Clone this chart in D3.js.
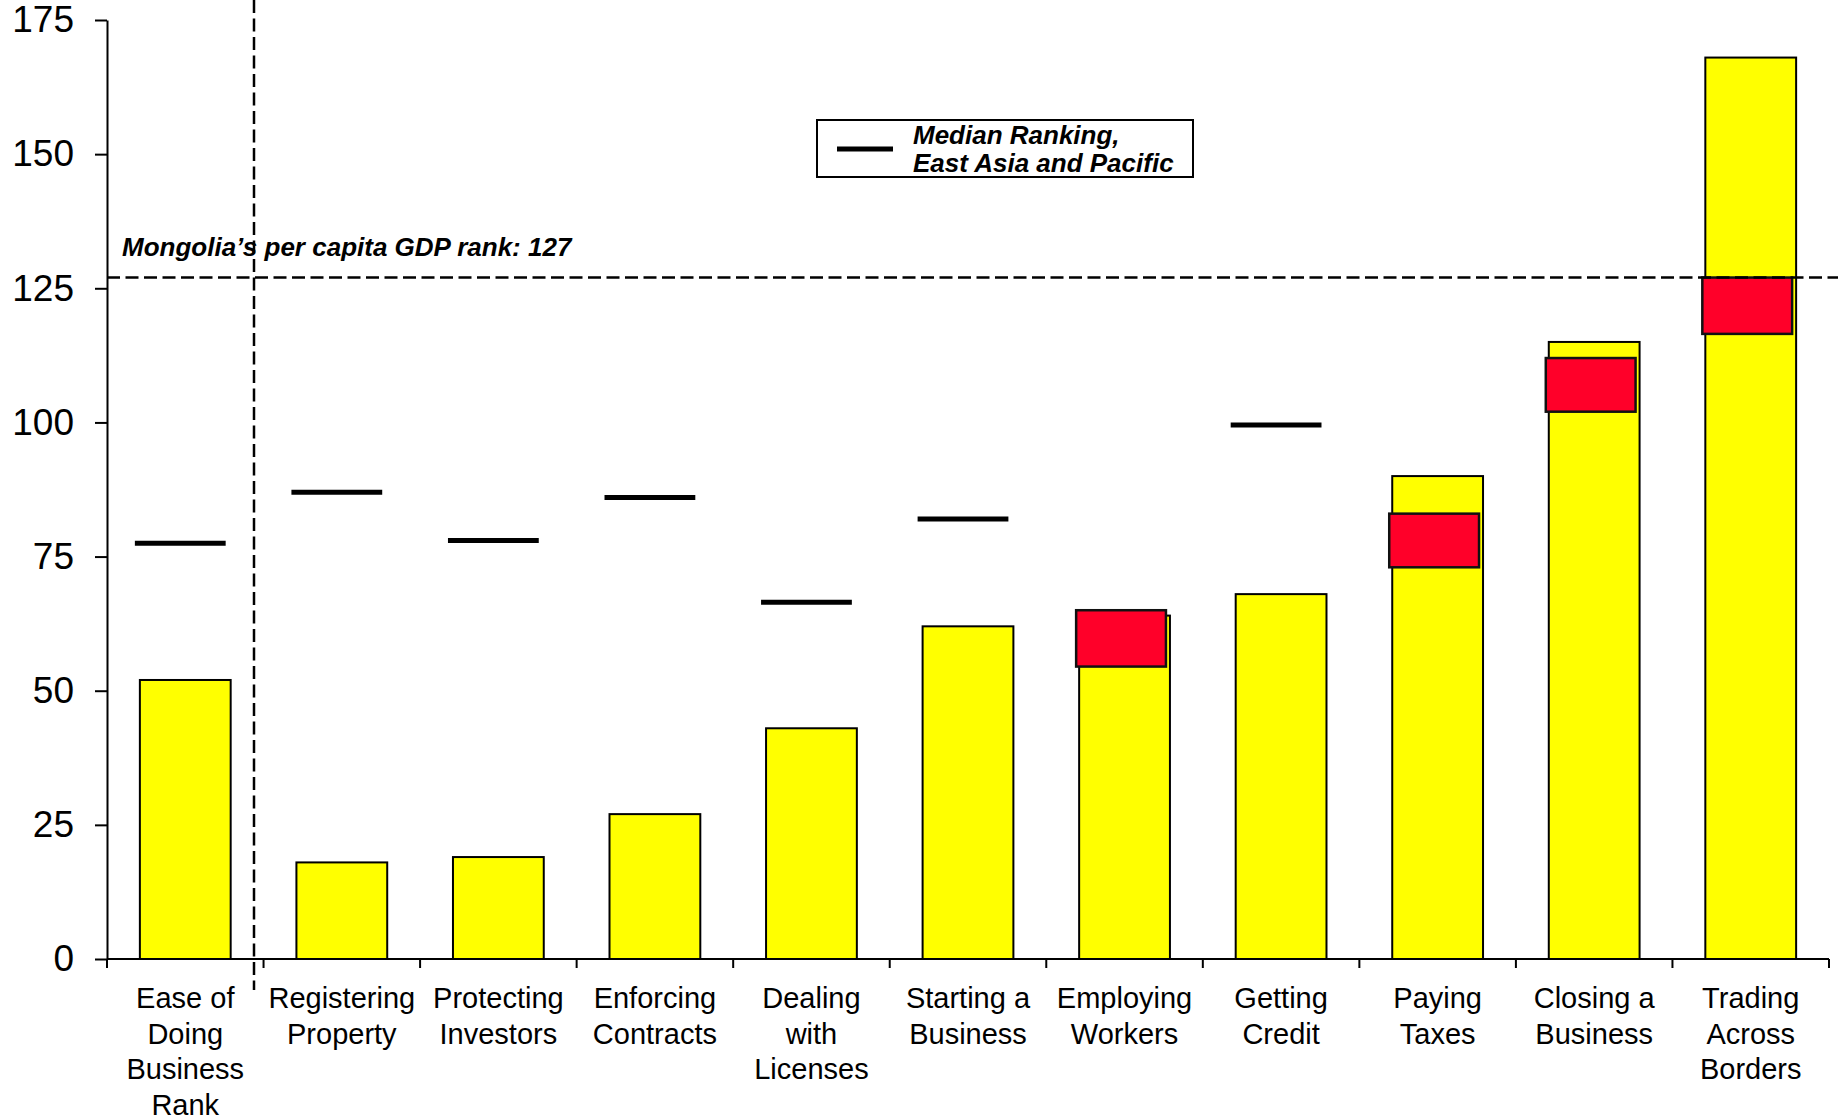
<!DOCTYPE html>
<html>
<head>
<meta charset="utf-8">
<script src="https://cdn.jsdelivr.net/npm/d3@7"></script>
<style>
  html, body { margin: 0; padding: 0; background: #fff; }
  svg { display: block; font-family: "Liberation Sans", Arial, sans-serif; }
</style>
</head>
<body>
<svg id="chart" width="1838" height="1120"></svg>
<script>
// Doing Business rankings for Mongolia, by topic
const categories = [
  ["Ease of", "Doing", "Business", "Rank"],
  ["Registering", "Property"],
  ["Protecting", "Investors"],
  ["Enforcing", "Contracts"],
  ["Dealing", "with", "Licenses"],
  ["Starting a", "Business"],
  ["Employing", "Workers"],
  ["Getting", "Credit"],
  ["Paying", "Taxes"],
  ["Closing a", "Business"],
  ["Trading", "Across", "Borders"]
];
const rankValues = [52, 18, 19, 27, 43, 62, 64, 68, 90, 115, 168];
// Median ranking, East Asia and Pacific (null where no marker is drawn)
const medianValues = [77.5, 87, 78, 86, 66.5, 82, null, 99.5, null, null, null];
// Red range boxes (null where none)
const redLow  = [null, null, null, null, null, null, 54.5, null, 73, 102, 116.5];
const redHigh = [null, null, null, null, null, null, 65,   null, 83, 112, 127];
const yTicks = [0, 25, 50, 75, 100, 125, 150, 175];
const gdpRank = 127;
const gdpLabel = "Mongolia\u2019s per capita GDP rank: 127";
const legendLines = ["Median Ranking,", "East Asia and Pacific"];

const svg = d3.select("#chart");
const keys = categories.map((c, i) => i);

const x = d3.scaleBand()
  .domain(keys)
  .range([107, 1829])
  .paddingInner(0.42)
  .paddingOuter(0.21);
const y = d3.scaleLinear().domain([0, 175]).range([959, 20]);
const bw = x.bandwidth();
const gap = (x.step() - bw) / 2;

// Yellow rank bars
svg.append("g").selectAll("rect")
  .data(keys)
  .join("rect")
  .attr("x", i => x(i))
  .attr("y", i => y(rankValues[i]))
  .attr("width", bw)
  .attr("height", i => y(0) - y(rankValues[i]))
  .attr("fill", "#FFFF00")
  .attr("stroke", "#000")
  .attr("stroke-width", 2);

// Red range boxes
svg.append("g").selectAll("rect")
  .data(keys.filter(i => redLow[i] !== null))
  .join("rect")
  .attr("x", i => x(i) - 3)
  .attr("y", i => y(redHigh[i]))
  .attr("width", bw - 1)
  .attr("height", i => y(redLow[i]) - y(redHigh[i]))
  .attr("fill", "#FF0029")
  .attr("stroke", "#111")
  .attr("stroke-width", 2.5);

// Median markers
svg.append("g").selectAll("line")
  .data(keys.filter(i => medianValues[i] !== null))
  .join("line")
  .attr("x1", i => x(i) - 5)
  .attr("x2", i => x(i) - 5 + bw)
  .attr("y1", i => y(medianValues[i]))
  .attr("y2", i => y(medianValues[i]))
  .attr("stroke", "#000")
  .attr("stroke-width", 5);

// Y axis
const yAxis = svg.append("g")
  .attr("transform", `translate(${x.range()[0]},0)`)
  .call(d3.axisLeft(y).tickValues(yTicks).tickSize(12).tickSizeOuter(0).tickPadding(21));
yAxis.select(".domain").attr("stroke", "#000").attr("stroke-width", 2);
yAxis.selectAll(".tick line").attr("stroke", "#000").attr("stroke-width", 2);
yAxis.selectAll(".tick text")
  .attr("font-size", 37)
  .attr("font-family", "'Liberation Sans', Arial, sans-serif")
  .attr("fill", "#000");

// X axis line with ticks at category boundaries
const xAxis = svg.append("g");
xAxis.append("line")
  .attr("x1", x.range()[0]).attr("x2", x.range()[1])
  .attr("y1", y(0)).attr("y2", y(0))
  .attr("stroke", "#000").attr("stroke-width", 2);
const bounds = keys.map(i => x(i) - gap).concat([x(keys.length - 1) + bw + gap]);
xAxis.selectAll("line.tick")
  .data(bounds)
  .join("line")
  .attr("class", "tick")
  .attr("x1", d => d).attr("x2", d => d)
  .attr("y1", y(0)).attr("y2", y(0) + 9)
  .attr("stroke", "#000").attr("stroke-width", 2);

// Category labels
const labels = svg.append("g")
  .attr("font-size", 29)
  .attr("fill", "#000")
  .attr("text-anchor", "middle");
labels.selectAll("text")
  .data(keys)
  .join("text")
  .attr("x", i => x(i) + bw / 2)
  .attr("y", 1008)
  .each(function(i) {
    const t = d3.select(this);
    categories[i].forEach((line, k) => {
      t.append("tspan")
        .attr("x", x(i) + bw / 2)
        .attr("y", 1008 + k * 35.6)
        .text(line);
    });
  });

// Per capita GDP reference line
svg.append("line")
  .attr("x1", x.range()[0]).attr("x2", 1838)
  .attr("y1", y(gdpRank)).attr("y2", y(gdpRank))
  .attr("stroke", "#000").attr("stroke-width", 2.5)
  .attr("stroke-dasharray", "13,5.5");
svg.append("text")
  .attr("x", 122)
  .attr("y", 256)
  .attr("font-size", 26)
  .attr("font-weight", "bold")
  .attr("font-style", "italic")
  .text(gdpLabel);

// Divider between overall rank and topic ranks
svg.append("line")
  .attr("x1", 254).attr("x2", 254)
  .attr("y1", 0).attr("y2", 990)
  .attr("stroke", "#000").attr("stroke-width", 2.5)
  .attr("stroke-dasharray", "13,5.5");

// Legend
const legend = svg.append("g");
legend.append("rect")
  .attr("x", 817).attr("y", 120)
  .attr("width", 376).attr("height", 57)
  .attr("fill", "#fff").attr("stroke", "#000").attr("stroke-width", 2);
legend.append("line")
  .attr("x1", 837).attr("x2", 893)
  .attr("y1", 149).attr("y2", 149)
  .attr("stroke", "#000").attr("stroke-width", 5);
legend.selectAll("text.leg")
  .data(legendLines)
  .join("text")
  .attr("class", "leg")
  .attr("x", 913)
  .attr("y", (d, k) => 144 + k * 28)
  .attr("font-size", 26)
  .attr("font-weight", "bold")
  .attr("font-style", "italic")
  .text(d => d);
</script>
</body>
</html>
